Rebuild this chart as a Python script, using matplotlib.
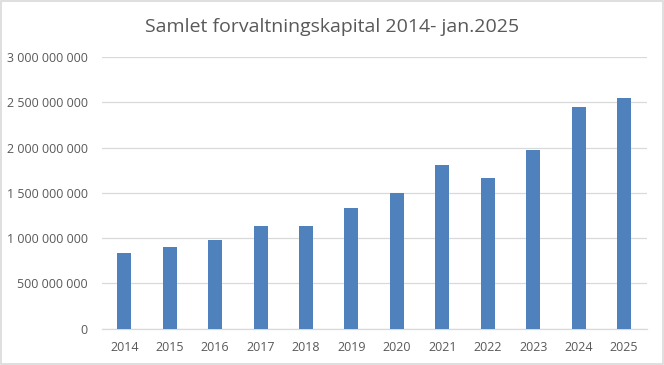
"""Samlet forvaltningskapital 2014 - jan.2025"""

import matplotlib
matplotlib.use('Agg')
import matplotlib.pyplot as plt
from matplotlib.ticker import FuncFormatter
from matplotlib.patches import Rectangle

# Data
years = ['2014', '2015', '2016', '2017', '2018', '2019',
         '2020', '2021', '2022', '2023', '2024', '2025']
capital = [835e6, 902e6, 979e6, 1137e6, 1130e6, 1329e6,
           1494e6, 1810e6, 1660e6, 1969e6, 2450e6, 2543e6]
y_ticks = [0, 500e6, 1000e6, 1500e6, 2000e6, 2500e6, 3000e6]

plt.rcParams['font.family'] = ['Open Sans', 'DejaVu Sans']
text_color = '#595959'
grid_color = '#D9D9D9'

fig = plt.figure(figsize=(6.64, 3.65), dpi=100)
ax = fig.add_axes([0.153, 0.0995, 0.821, 0.744])

x = range(len(years))
ax.bar(x, capital, width=0.31, color='#4F81BD', zorder=3)

ax.set_xlim(-0.5, len(years) - 0.5)
ax.set_ylim(0, 3000e6)
ax.set_yticks(y_ticks)
ax.yaxis.set_major_formatter(FuncFormatter(lambda v, _: f'{int(v):,}'.replace(',', ' ')))
ax.set_xticks(list(x))
ax.set_xticklabels(years)

ax.grid(axis='y', color=grid_color, linewidth=0.9, zorder=0)
for side in ['top', 'right', 'left']:
    ax.spines[side].set_visible(False)
ax.spines['bottom'].set_color(grid_color)
ax.spines['bottom'].set_linewidth(0.9)
ax.tick_params(length=0, labelsize=9, labelcolor=text_color)
ax.tick_params(axis='x', pad=9)
ax.tick_params(axis='y', pad=10)

fig.text(0.5, 0.925, 'Samlet forvaltningskapital 2014- jan.2025',
         ha='center', va='center', fontsize=14, color=text_color)

# Light border around the chart
fig.patches.append(Rectangle((0.001, 0.002), 0.997, 0.995, transform=fig.transFigure,
                             fill=False, edgecolor='#D9D9D9', linewidth=1.2))

fig.savefig('out.png', dpi=100)
